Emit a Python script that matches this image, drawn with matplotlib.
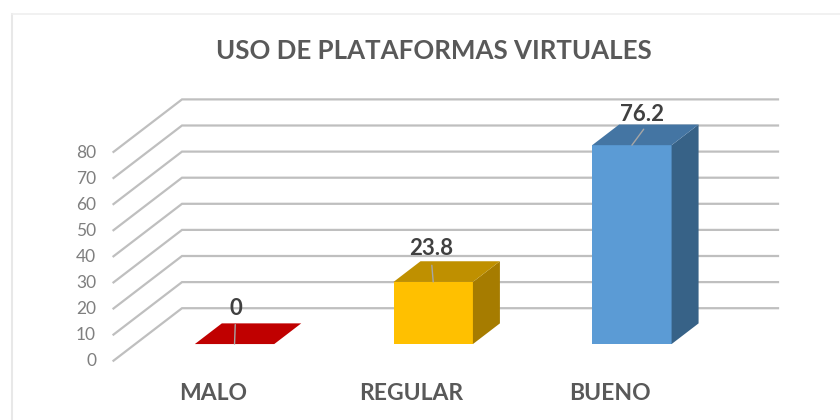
import matplotlib
matplotlib.use('Agg')
import matplotlib.pyplot as plt
from matplotlib.patches import Polygon

plt.rcParams['font.family'] = ['Lato', 'DejaVu Sans']

categories = ['MALO', 'REGULAR', 'BUENO']
values = [0, 23.8, 76.2]
front_colors = ['#C00000', '#FFC000', '#5B9BD5']
top_colors = ['#C00000', '#BF9000', '#4475A3']
side_colors = ['#900000', '#A67C00', '#376287']
y_ticks = [0, 10, 20, 30, 40, 50, 60, 70, 80]

title = 'USO DE PLATAFORMAS VIRTUALES'

# scales of the sheared pseudo 3d box, one axes over the whole figure
PX_CAT = 198.67
PX_VAL = 2.61
X0 = 113.5
Y0 = 360.7
DEPTH_X = 68.5 / PX_CAT
DEPTH_Y = 52.5 / PX_VAL


def project(cat, val, depth=0.0):
    return cat + depth * DEPTH_X, val + depth * DEPTH_Y


def generate_chart():
    fig = plt.figure(figsize=(8.4, 4.2), dpi=100)
    ax = fig.add_axes([0, 0, 1, 1])
    ax.set_xlim(-X0 / PX_CAT, (840 - X0) / PX_CAT)
    ax.set_ylim(-(420 - Y0) / PX_VAL, Y0 / PX_VAL)
    ax.axis('off')

    grid = '#BFBFBF'
    for tick in y_ticks:
        px, py = zip(project(0, tick), project(0, tick, 1), project(3, tick, 1))
        ax.plot(px, py, color=grid, lw=1.6, zorder=1, solid_joinstyle='miter')
        ax.text(-17.5 / PX_CAT, tick - 0.3, str(tick), ha='right', va='center',
                fontsize=12.5, color='#7F7F7F')

    d1, d2 = 0.317, 0.711
    half = 39.7 / PX_CAT
    for i, val in enumerate(values):
        c = i + 0.5
        l, r = c - half, c + half
        ax.add_patch(Polygon([project(l, 0, d1), project(r, 0, d1), project(r, val, d1), project(l, val, d1)],
                             fc=front_colors[i], ec='none', zorder=3))
        ax.add_patch(Polygon([project(r, 0, d1), project(r, 0, d2), project(r, val, d2), project(r, val, d1)],
                             fc=side_colors[i], ec='none', zorder=3))
        ax.add_patch(Polygon([project(l, val, d1), project(r, val, d1), project(r, val, d2), project(l, val, d2)],
                             fc=top_colors[i], ec='none', zorder=3))

    # label offsets from the front centre of each bar top, in points
    offsets = [(1, 25.5), (-1.5, 24), (7.2, 22)]
    leader_ends = [(0.5, 14), (-1, 12), (8.5, 11.5)]
    for i, val in enumerate(values):
        xy = project(i + 0.5, val, d1)
        lx, ly = leader_ends[i]
        ax.annotate('', xy=xy, xytext=(lx, ly), textcoords='offset points',
                    arrowprops=dict(arrowstyle='-', color='#A6A6A6', lw=1, shrinkA=0, shrinkB=0),
                    zorder=4)
        ax.annotate(f'{val:g}', xy=xy, xytext=offsets[i], textcoords='offset points',
                    ha='center', va='center', fontsize=16, fontweight='bold',
                    color='#404040', zorder=5)
        ax.text(i + 0.5, -(394 - Y0) / PX_VAL, categories[i], ha='center', va='center',
                fontsize=16.5, fontweight='bold', color='#595959')

    fig.text(434 / 840, 1 - 51 / 420, title, ha='center', va='center',
             fontsize=18.6, fontweight='bold', color='#595959')

    # chart frame
    fig.add_artist(plt.Line2D([11.5 / 840, 11.5 / 840], [0, 1 - 14 / 420], color='#E8E8E8', lw=1.5))
    fig.add_artist(plt.Line2D([11.5 / 840, 1], [1 - 14 / 420, 1 - 14 / 420], color='#EFEFEF', lw=1.2))

    plt.savefig('out.png', dpi=100)


generate_chart()
